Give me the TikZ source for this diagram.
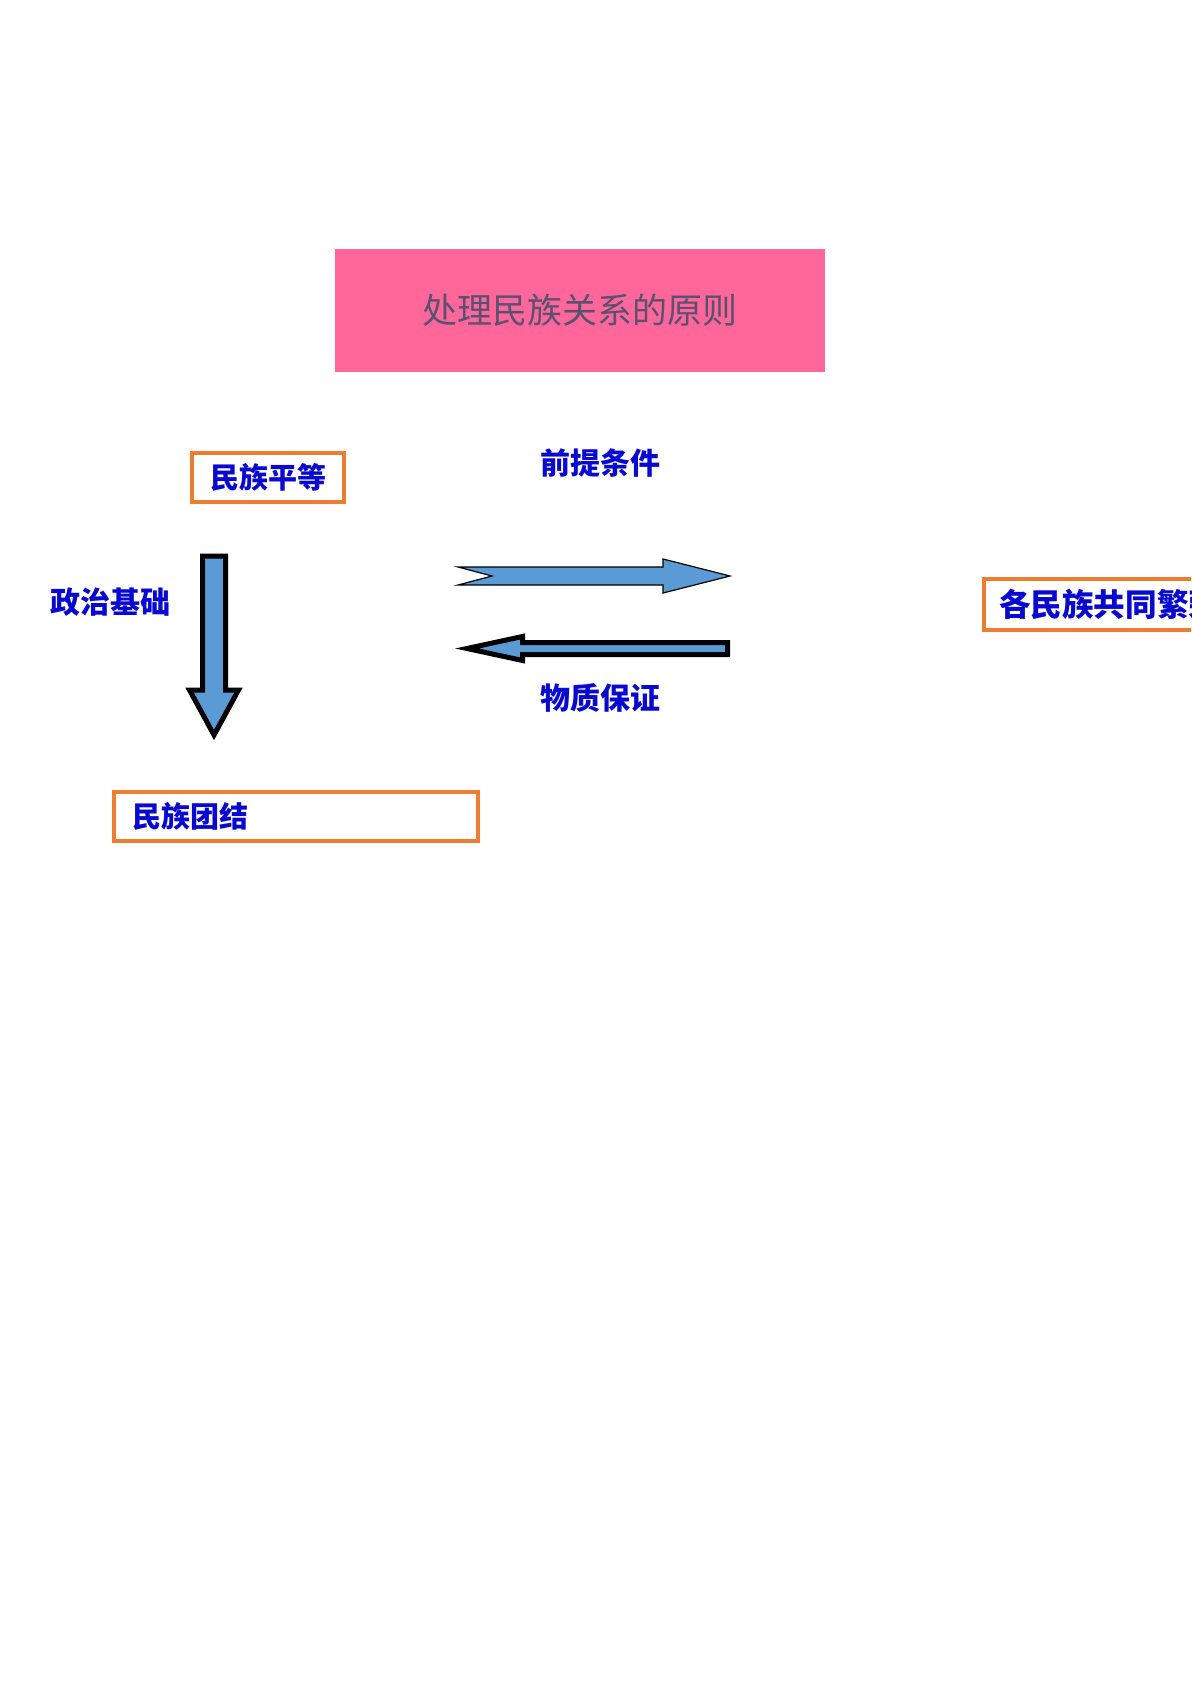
\documentclass[tikz,border=0pt]{standalone}
\usepackage{fontspec}
\newfontfamily\cjk{Noto Sans CJK SC}
\definecolor{titlepink}{RGB}{255,102,153}
\definecolor{titlegray}{RGB}{90,80,112}
\definecolor{boxorange}{RGB}{237,125,49}
\definecolor{arrowblue}{RGB}{91,155,213}
\definecolor{textblue}{RGB}{8,8,208}
\begin{document}
\begin{tikzpicture}[x=0.5pt,y=-0.5pt]
	\cjk
	\tikzstyle{title}=[fill=titlepink,text=titlegray,minimum width=245pt,minimum height=61.5pt,font=\cjk\fontsize{17.5pt}{20pt}\selectfont]
	\tikzstyle{keybox}=[draw=boxorange,line width=2pt,fill=white,inner sep=0pt,minimum height=24.5pt,text=textblue,font=\cjk\bfseries\fontsize{14.5pt}{17pt}\selectfont]
	\tikzstyle{annot}=[inner sep=0pt,text=textblue,font=\cjk\bfseries\fontsize{15pt}{18pt}\selectfont]
	\tikzstyle{fatarrow}=[draw=black,fill=arrowblue,line width=2.5pt,line join=miter]
	\tikzstyle{thinarrow}=[draw=black,fill=arrowblue,line width=0.6pt,line join=miter]

	\def \top{477.5}
	\def \mid{576}

	\useasboundingbox (0,0) rectangle (1191,1684);
	\clip (0,0) rectangle (1191,1684);

	\node[title] (yuanze) at (580,310.5) {处理民族关系的原则};

	\node[keybox,minimum width=76pt] (pingdeng) at (268,\top) {民族平等};
	\node[keybox,minimum width=182pt,text width=164pt,align=left,inner xsep=9pt] (tuanjie) at (296,816.5) {民族团结};
	\node[keybox,anchor=west,minimum height=25.5pt,inner xsep=7.5pt,font=\cjk\bfseries\fontsize{15.8pt}{18pt}\selectfont] (fanrong) at (982,604.5) {各民族共同繁荣\hspace{20pt}};

	\node[annot] (zhengzhi) at (110,602) {政治基础};
	\node[annot] (qianti) at (600,463) {前提条件};
	\node[annot] (wuzhi) at (600,698) {物质保证};

	% down arrow
	\draw[fatarrow] (202.5,556) -- (225.5,556) -- (225.5,690) -- (238.5,690) -- (214,735)
		-- (189.5,690) -- (202.5,690) -- cycle;
	% right arrow
	\draw[thinarrow] (458,567) -- (663,567) -- (663,559) -- (730,576) -- (663,593)
		-- (663,585) -- (458,585) -- (492,576) -- cycle;
	% left arrow
	\draw[fatarrow] (727.5,642.5) -- (522.5,642.5) -- (522.5,636.5) -- (467,648.5)
		-- (522.5,660.5) -- (522.5,654.5) -- (727.5,654.5) -- cycle;
\end{tikzpicture}
\end{document}
